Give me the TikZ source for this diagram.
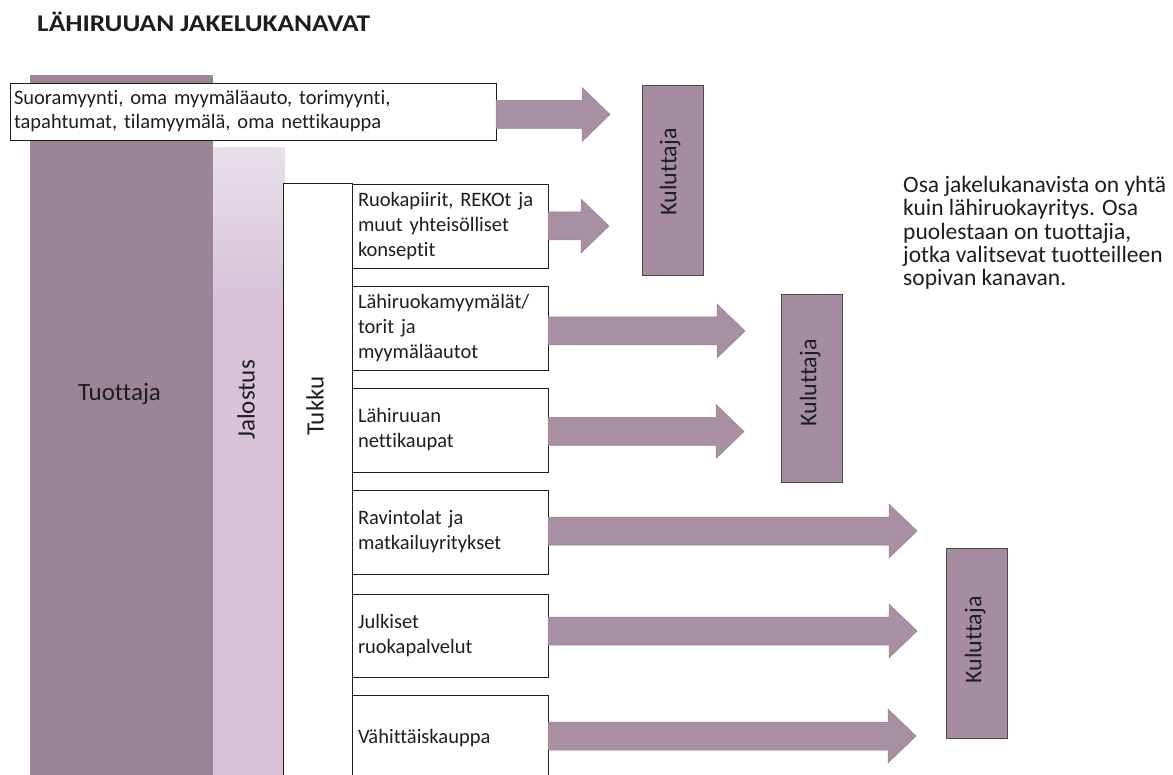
\documentclass[tikz,border=0pt]{standalone}
\usepackage{fontspec}
\setmainfont{Carlito}[Ligatures=NoCommon]
\usetikzlibrary{calc}
\definecolor{tcol}{HTML}{9D8396}
\definecolor{jtop}{HTML}{E7E0EA}
\definecolor{jcol}{HTML}{D8C2D8}
\definecolor{acol}{HTML}{A88FA2}
\definecolor{aedge}{HTML}{958192}
\definecolor{kcol}{HTML}{A68CA1}
\definecolor{ink}{HTML}{1E1E1E}
\tikzset{
  whitebox/.style={draw=ink, line width=0.9pt, fill=white, anchor=north west, inner sep=0pt, outer sep=0pt},
  chanbox/.style={whitebox, minimum width=196pt, text width=184pt, inner xsep=6pt, align=left,
    font=\fontsize{20.5}{25}\selectfont, text=ink},
  kbox/.style={draw=ink!80, line width=0.8pt, fill=kcol, anchor=north west, minimum width=61pt, minimum height=190pt, inner sep=0pt},
  biglabel/.style={font=\fontsize{25}{28}\selectfont, text=ink, inner sep=0pt},
  blockarrow/.style={draw=aedge, fill=acol, line width=0.5pt, line join=miter,
    to path={let \p1=(\tikztostart), \p2=(\tikztotarget) in
      (\x1,{\y2+14pt}) -- ({\x2-28pt},{\y2+14pt}) -- ({\x2-28pt},{\y2+27pt}) -- (\x2,\y2)
      -- ({\x2-28pt},{\y2-27pt}) -- ({\x2-28pt},{\y2-14pt}) -- (\x1,{\y2-14pt}) -- cycle}},
}
\begin{document}
\begin{tikzpicture}[x=1pt,y=-1pt]
\useasboundingbox (0,0) rectangle (1173,775);
\clip (0,0) rectangle (1173,775);

% title
\node[anchor=base west, font=\fontsize{24}{28}\selectfont\bfseries, text=ink, inner sep=0pt] (title) at (37,32)
  {\scalebox{1.14}[1]{LÄHIRUUAN JAKELUKANAVAT}};

% columns
\node[fill=tcol, anchor=north west, minimum width=183pt, minimum height=710pt, inner sep=0pt, outer sep=0pt] (tuot) at (30,75) {};
\node[biglabel] (tuotlab) at (119.5,394) {Tuottaja};

\node[fill=jcol, anchor=north west, minimum width=72pt, minimum height=635pt, inner sep=0pt, outer sep=0pt] (jal) at (213,148) {};
\shade[top color=jtop, bottom color=jcol] (213,148) rectangle (285,300);
\node[biglabel, rotate=90] (jallab) at (246,400) {Jalostus};

\node[whitebox, minimum width=69pt, minimum height=600pt] (tukku) at (283,183) {};
\node[biglabel, rotate=90] (tukkulab) at (315,406) {Tukku};

% top box
\node[whitebox, minimum width=486pt, minimum height=57pt, text width=478pt, inner xsep=4pt, align=left,
      font=\fontsize{20.5}{24}\selectfont, text=ink] (top) at (10,83)
  {Suoramyynti, oma myymäläauto, torimyynti,\\tapahtumat, tilamyymälä, oma nettikauppa};

% channel boxes
\node[chanbox, minimum height=84pt] (b2) at (352,184) {Ruokapiirit, REKOt ja\\muut yhteisölliset\\konseptit};
\node[chanbox, minimum height=84pt] (b3) at (352,286) {Lähiruokamyymälät/\\torit ja\\myymäläautot};
\node[chanbox, minimum height=84pt] (b4) at (352,388) {Lähiruuan\\nettikaupat};
\node[chanbox, minimum height=84pt] (b5) at (352,490) {Ravintolat ja\\matkailuyritykset};
\node[chanbox, minimum height=83pt] (b6) at (352,594) {Julkiset\\ruokapalvelut};
\node[chanbox, minimum height=86pt] (b7) at (352,695) {Vähittäiskauppa};

% consumer boxes
\node[kbox] (k1) at (642,85) {};
\node[kbox, minimum height=188pt] (k2) at (781,294) {};
\node[kbox] (k3) at (946,548) {};
\node[biglabel, rotate=90, font=\fontsize{24}{28}\selectfont] (k1lab) at (670,172) {Kuluttaja};
\node[biglabel, rotate=90, font=\fontsize{24}{28}\selectfont] (k2lab) at (810,383) {Kuluttaja};
\node[biglabel, rotate=90, font=\fontsize{24}{28}\selectfont] (k3lab) at (975,640) {Kuluttaja};

% arrow tips
\coordinate (t1) at (610,114.5);
\coordinate (t2) at (609,226);
\coordinate (t3) at (745,331);
\coordinate (t4) at (744,431.5);
\coordinate (t5) at (917,531);
\coordinate (t6) at (917,631);
\coordinate (t7) at (916,736);

\draw[blockarrow] (top.east) to (t1);
\draw[blockarrow] (b2.east) to (t2);
\draw[blockarrow] (b3.east) to (t3);
\draw[blockarrow] (b4.east) to (t4);
\draw[blockarrow] (b5.east) to (t5);
\draw[blockarrow] (b6.east) to (t6);
\draw[blockarrow] (b7.east) to (t7);

% note
\node[anchor=north west, align=left, font=\fontsize{23.5}{23.3}\selectfont, text=ink, inner sep=0pt] (note) at (903,176)
  {Osa jakelukanavista on yhtä\\kuin lähiruokayritys. Osa\\puolestaan on tuottajia,\\jotka valitsevat tuotteilleen\\sopivan kanavan.};
\end{tikzpicture}
\end{document}
